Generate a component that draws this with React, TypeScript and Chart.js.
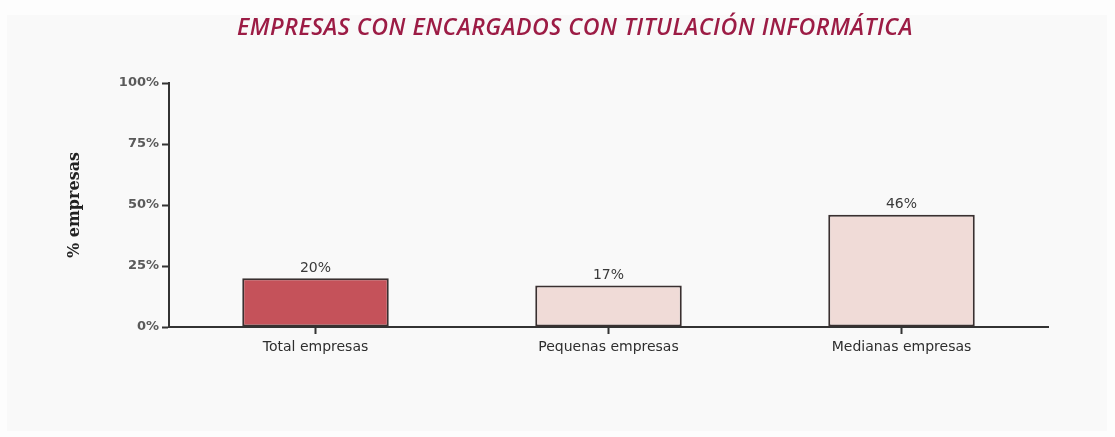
import React, { useEffect, useRef } from "react";
import { Chart, registerables } from "chart.js";

Chart.register(...registerables);

const categories = ["Total empresas", "Pequenas empresas", "Medianas empresas"];
const values = [20, 17, 46];
const barColors = ["#c5525a", "#f0dbd7", "#f0dbd7"];
const yTicks = [0, 25, 50, 75, 100];
const chartTitle = "EMPRESAS CON ENCARGADOS CON TITULACIÓN INFORMÁTICA";
const yTitle = "% empresas";

const valueLabels = {
  id: "valueLabels",
  afterDatasetsDraw(chart: any) {
    const ctx = chart.ctx;
    const meta = chart.getDatasetMeta(0);
    ctx.save();
    ctx.font = "14px 'DejaVu Sans', sans-serif";
    ctx.fillStyle = "#3a3a3a";
    ctx.textAlign = "center";
    ctx.textBaseline = "bottom";
    meta.data.forEach((bar: any, i: number) => {
      ctx.fillText(values[i] + "%", bar.x, bar.y - 3);
    });
    ctx.restore();
  },
};

const condensedTitle = {
  id: "condensedTitle",
  afterDraw(chart: any) {
    const ctx = chart.ctx;
    ctx.save();
    ctx.font = "italic 600 23px 'Open Sans', sans-serif";
    (ctx as any).letterSpacing = "0.5px";
    ctx.fillStyle = "#9c1c45";
    ctx.textAlign = "center";
    ctx.textBaseline = "middle";
    const w = ctx.measureText(chartTitle).width;
    const target = 676;
    const sx = target / w;
    ctx.translate(575, 28);
    ctx.scale(sx, 1);
    ctx.fillText(chartTitle, 0, 0);
    ctx.restore();
  },
};

export default function App() {
  const ref = useRef<HTMLCanvasElement>(null);
  useEffect(() => {
    if (!ref.current) return;
    const chart = new Chart(ref.current, {
      type: "bar",
      data: {
        labels: categories,
        datasets: [
          {
            data: values,
            backgroundColor: barColors,
            borderColor: "#3a3030",
            borderWidth: 2,
            borderSkipped: false,
            barPercentage: 0.5,
            categoryPercentage: 1,
          },
        ],
      },
      options: {
        animation: false,
        responsive: false,
        maintainAspectRatio: false,
        layout: { padding: { left: 0, right: 67, top: 83, bottom: 0 } },
        plugins: {
          legend: { display: false },
          tooltip: { enabled: false },
          title: { display: false },
        },
        scales: {
          x: {
            afterFit: (s: any) => {
              s.height = 110;
            },
            grid: {
              offset: false,
              drawOnChartArea: false,
              drawTicks: true,
              tickLength: 7,
              tickWidth: 2,
              tickColor: "#333",
            },
            border: { color: "#333", width: 2 },
            ticks: {
              color: "#2e2e2e",
              padding: 5,
              font: { family: "'DejaVu Sans', sans-serif", size: 14 },
            },
          },
          y: {
            min: 0,
            max: 100,
            afterBuildTicks: (s: any) => {
              s.ticks = yTicks.map((v) => ({ value: v }));
            },
            afterFit: (s: any) => {
              s.width = 169;
            },
            grid: {
              drawOnChartArea: false,
              drawTicks: true,
              tickLength: 7,
              tickWidth: 2,
              tickColor: "#333",
            },
            border: { color: "#333", width: 2 },
            ticks: {
              color: "#5a5a5a",
              padding: 3,
              font: { family: "'DejaVu Sans', sans-serif", size: 13, weight: "bold" },
              callback: (v: any) => v + "%",
            },
            title: {
              display: true,
              text: yTitle,
              color: "#222",
              font: { family: "'DejaVu Serif', serif", size: 16, weight: "bold" },
              padding: { top: 65, bottom: 0 },
            },
          },
        },
      },
      plugins: [valueLabels, condensedTitle],
    });
    return () => chart.destroy();
  }, []);
  return (
    <div
      style={{
        position: "fixed",
        left: 0,
        top: 0,
        width: 1115,
        height: 437,
        background: "#fdfdfd",
      }}
    >
      <div
        style={{
          position: "absolute",
          left: 7,
          top: 15,
          right: 8,
          bottom: 6,
          background: "#f9f9f9",
        }}
      />
      <canvas ref={ref} width={1115} height={437} style={{ position: "absolute", left: 0, top: 0 }} />
    </div>
  );
}
